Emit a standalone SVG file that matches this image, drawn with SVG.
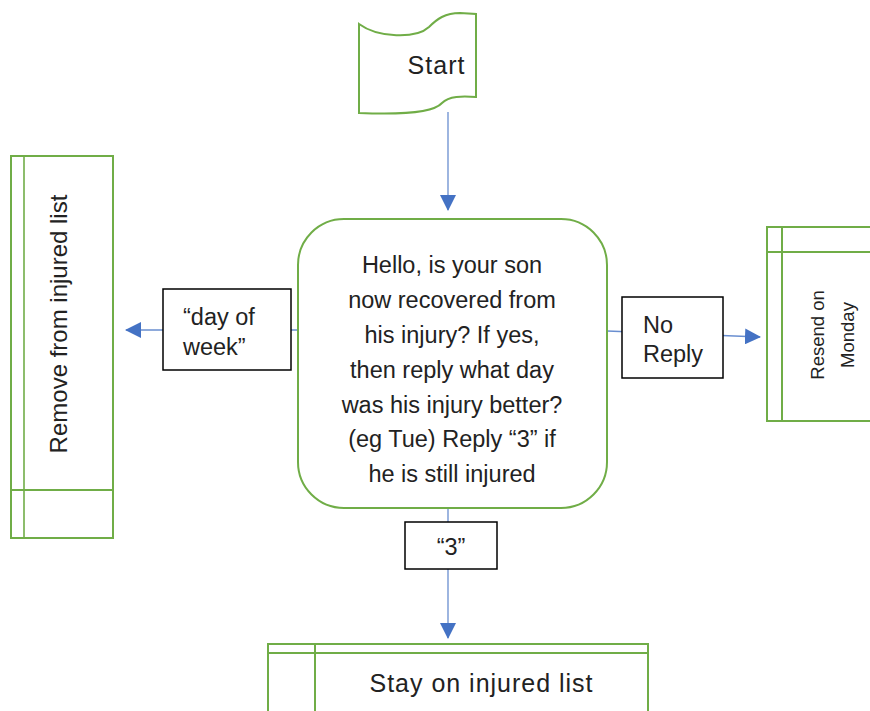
<svg xmlns="http://www.w3.org/2000/svg" width="870" height="711" viewBox="0 0 870 711">
  <style>
    .shape { fill: #ffffff; stroke: #70AD47; stroke-width: 2; }
    .rule { fill: none; stroke: #70AD47; stroke-width: 2; }
    .label { fill: #ffffff; stroke: #000000; stroke-width: 1.5; }
    .txt { font-family: "Liberation Sans", Arial, sans-serif; fill: #222222; }
    .conn { fill: none; stroke: #4472C4; stroke-width: 1.3; stroke-opacity: 0.8; }
  </style>
  <defs>
    <marker id="arrow" viewBox="0 0 16 16" refX="15" refY="8" markerWidth="16" markerHeight="16" markerUnits="userSpaceOnUse" orient="auto">
      <path d="M0,0 L16,8 L0,16 Z" fill="#4472C4"/>
    </marker>
  </defs>

  <rect width="870" height="711" fill="#ffffff"/>

  <!-- connectors -->
  <g id="connectors">
    <line class="conn" x1="448" y1="112" x2="448" y2="210" marker-end="url(#arrow)"/>
    <line class="conn" x1="298" y1="330" x2="126" y2="330" marker-end="url(#arrow)"/>
    <line class="conn" x1="607" y1="331" x2="760" y2="337" marker-end="url(#arrow)"/>
    <line class="conn" x1="448" y1="509" x2="448" y2="638" marker-end="url(#arrow)"/>
  </g>

  <!-- start: punched tape -->
  <g id="start">
    <path class="shape" d="M359,24 C378,38 416,39 429,27 C437,19 445,13 460,13 L476,14 L476,97 C462,96 449,96 442,103 C434,112 405,115 359,113 Z"/>
    <text class="txt" x="436" y="74" font-size="25" text-anchor="middle" textLength="57">Start</text>
  </g>

  <!-- question -->
  <g id="question">
    <rect class="shape" x="298" y="219" width="309" height="289" rx="46" ry="46"/>
    <g class="txt" font-size="23.5" text-anchor="middle">
      <text x="452" y="273">Hello, is your son</text>
      <text x="452" y="308">now recovered from</text>
      <text x="452" y="343">his injury? If yes,</text>
      <text x="452" y="378">then reply what day</text>
      <text x="452" y="413">was his injury better?</text>
      <text x="452" y="447">(eg Tue) Reply “3” if</text>
      <text x="452" y="482">he is still injured</text>
    </g>
  </g>

  <!-- remove from injured list -->
  <g id="remove">
    <rect class="shape" x="11" y="156" width="102" height="382"/>
    <line class="rule" x1="24" y1="156" x2="24" y2="538" stroke-width="3" stroke-opacity="0.8"/>
    <line class="rule" x1="11" y1="490" x2="113" y2="490"/>
    <text class="txt" font-size="24" text-anchor="middle" transform="translate(67,324) rotate(-90)">Remove from injured list</text>
  </g>

  <!-- resend on monday -->
  <g id="resend">
    <path class="shape" d="M872,227 L767,227 L767,421 L872,421"/>
    <line class="rule" x1="782" y1="227" x2="782" y2="421"/>
    <line class="rule" x1="767" y1="252" x2="872" y2="252"/>
    <g class="txt" font-size="18.5" text-anchor="middle">
      <text transform="translate(824,335) rotate(-90)">Resend on</text>
      <text transform="translate(854,335) rotate(-90)">Monday</text>
    </g>
  </g>

  <!-- stay on injured list -->
  <g id="stay">
    <path class="shape" d="M268,715 L268,644 L648,644 L648,715"/>
    <line class="rule" x1="315" y1="644" x2="315" y2="715"/>
    <line class="rule" x1="268" y1="653" x2="648" y2="653"/>
    <text class="txt" x="481" y="692" font-size="25" text-anchor="middle" textLength="223">Stay on injured list</text>
  </g>

  <!-- branch labels -->
  <g id="label-day">
    <rect class="label" x="163" y="289" width="128" height="81"/>
    <g class="txt" font-size="23.5">
      <text x="183" y="325">“day of</text>
      <text x="183" y="355">week”</text>
    </g>
  </g>

  <g id="label-noreply">
    <rect class="label" x="622" y="297" width="101" height="81"/>
    <g class="txt" font-size="23.5">
      <text x="643" y="333">No</text>
      <text x="643" y="362">Reply</text>
    </g>
  </g>

  <g id="label-three">
    <rect class="label" x="405" y="522" width="92" height="47"/>
    <text class="txt" x="451" y="555" font-size="23.5" text-anchor="middle">“3”</text>
  </g>
</svg>
